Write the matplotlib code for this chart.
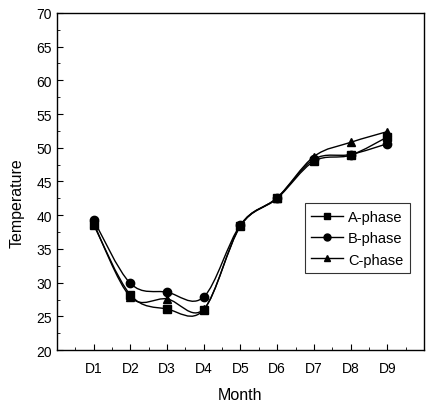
import matplotlib
matplotlib.use("Agg")
import matplotlib.pyplot as plt
from matplotlib.path import Path
from matplotlib.patches import PathPatch
from matplotlib.ticker import MultipleLocator
import numpy as np

plt.rcParams['font.family'] = ['Liberation Sans', 'DejaVu Sans']

# data
days = ['D1', 'D2', 'D3', 'D4', 'D5', 'D6', 'D7', 'D8', 'D9']
a_phase = [38.6, 28.2, 26.1, 26.0, 38.4, 42.5, 48.0, 48.9, 51.6]
b_phase = [39.3, 29.9, 28.6, 27.9, 38.6, 42.6, 48.3, 49.0, 50.6]
c_phase = [38.8, 27.9, 27.6, 26.1, 38.5, 42.6, 48.7, 50.8, 52.4]


# smooth line through the points (Catmull-Rom as cubic bezier segments)
def smooth_path(x, y):
    pts = np.column_stack([x, y]).astype(float)
    verts = [pts[0]]
    codes = [Path.MOVETO]
    n = len(pts)
    for i in range(n - 1):
        p0 = pts[max(i - 1, 0)]
        p1 = pts[i]
        p2 = pts[i + 1]
        p3 = pts[min(i + 2, n - 1)]
        c1 = p1 + (p2 - p0) / 6.0
        c2 = p2 - (p3 - p1) / 6.0
        verts += [c1, c2, p2]
        codes += [Path.CURVE4] * 3
    return Path(verts, codes)


fig = plt.figure(figsize=(4.31, 4.06), dpi=100)
ax = fig.add_axes([0.132, 0.135, 0.852, 0.831])

x = np.arange(1, len(days) + 1)
series = [(a_phase, 's', 'A-phase'), (b_phase, 'o', 'B-phase'), (c_phase, '^', 'C-phase')]
for vals, mk, lab in series:
    ax.add_patch(PathPatch(smooth_path(x, vals), fill=False, edgecolor='black', lw=1.0))
    ax.plot(x, vals, linestyle='none', marker=mk, color='black', markersize=6)
    # legend proxy
    ax.plot([], [], color='black', lw=1.0, marker=mk, markersize=5, label=lab)

ax.set_xlim(0, 10)
ax.set_ylim(20, 70)
ax.set_xticks(x)
ax.set_xticklabels(days)
ax.xaxis.set_minor_locator(MultipleLocator(0.5))
ax.yaxis.set_major_locator(MultipleLocator(5))
ax.yaxis.set_minor_locator(MultipleLocator(2.5))
ax.tick_params(which='both', direction='in', labelsize=10, top=False, right=False)
ax.tick_params(which='major', length=4)
ax.tick_params(which='minor', length=2)
ax.tick_params(axis='x', pad=8)
for s in ax.spines.values():
    s.set_linewidth(1.0)

ax.set_xlabel('Month', fontsize=11.5)
ax.xaxis.set_label_coords(0.5, -0.108)
ax.set_ylabel('Temperature', fontsize=11.5)
ax.yaxis.set_label_coords(-0.088, 0.44)

leg = ax.legend(loc='upper left', bbox_to_anchor=(0.675, 0.435), fontsize=10.5,
                frameon=True, fancybox=False, edgecolor='black',
                handlelength=2.2, borderpad=0.45, labelspacing=0.5, handletextpad=0.3,
                borderaxespad=0)
leg.get_frame().set_linewidth(0.8)

fig.savefig('out.png', dpi=100)
